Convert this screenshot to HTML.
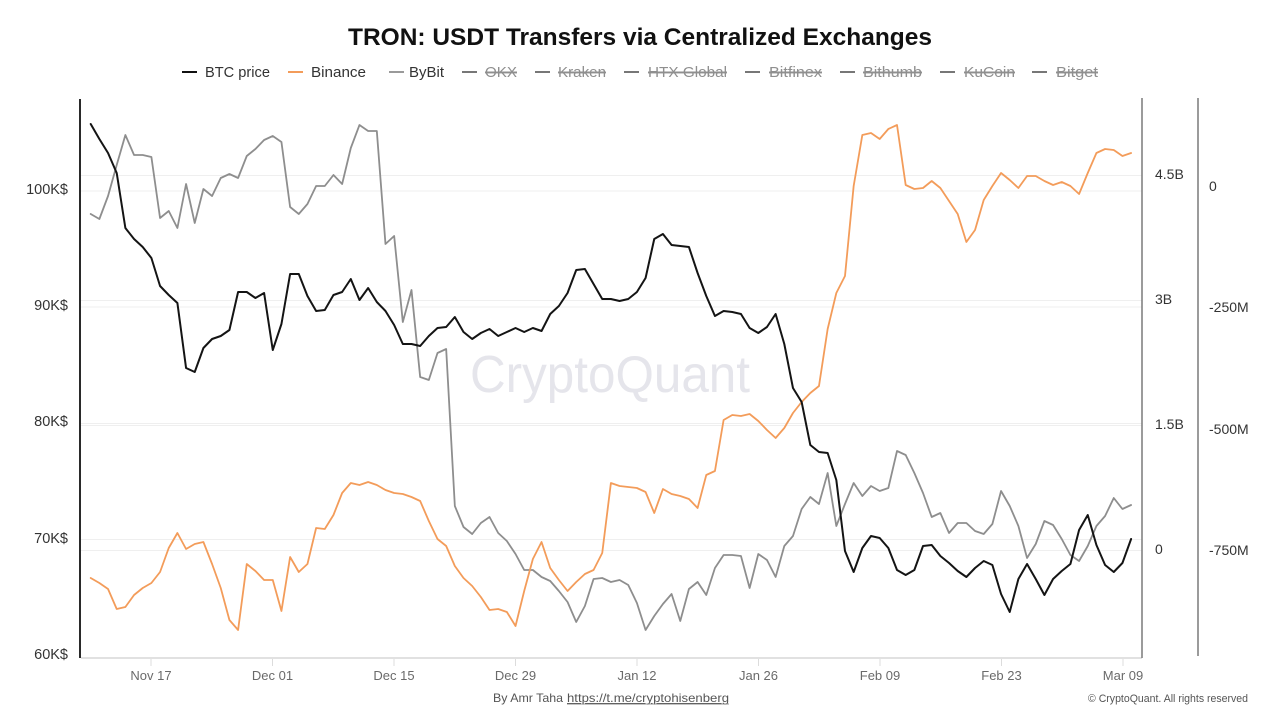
<!DOCTYPE html>
<html>
<head>
<meta charset="utf-8">
<style>
  html, body { margin: 0; padding: 0; background: #ffffff; }
  svg { display: block; }
  text { font-family: "Liberation Sans", "DejaVu Sans", sans-serif; }
</style>
</head>
<body>
<svg width="1280" height="720" viewBox="0 0 1280 720" xmlns="http://www.w3.org/2000/svg">
  <rect width="1280" height="720" fill="#ffffff"/>

  <!-- Title -->
  <text x="640" y="45" text-anchor="middle" font-size="24" font-weight="bold" fill="#111" textLength="584" lengthAdjust="spacingAndGlyphs">TRON: USDT Transfers via Centralized Exchanges</text>

  <!-- Legend -->
  <g font-size="15">
    <line x1="182" y1="72" x2="197" y2="72" stroke="#111" stroke-width="2"/>
    <text x="205" y="77" fill="#333" textLength="65" lengthAdjust="spacingAndGlyphs">BTC price</text>
    <line x1="288" y1="72" x2="303" y2="72" stroke="#f39c5a" stroke-width="2"/>
    <text x="311" y="77" fill="#333" textLength="55" lengthAdjust="spacingAndGlyphs">Binance</text>
    <line x1="389" y1="72" x2="404" y2="72" stroke="#9a9a9a" stroke-width="2"/>
    <text x="409" y="77" fill="#333" textLength="35" lengthAdjust="spacingAndGlyphs">ByBit</text>

    <g fill="#8f8f8f" text-decoration="line-through">
      <line x1="462" y1="72" x2="477" y2="72" stroke="#777" stroke-width="2"/>
      <text x="485" y="77" textLength="32" lengthAdjust="spacingAndGlyphs">OKX</text>
      <line x1="535" y1="72" x2="550" y2="72" stroke="#777" stroke-width="2"/>
      <text x="558" y="77" textLength="48" lengthAdjust="spacingAndGlyphs">Kraken</text>
      <line x1="624" y1="72" x2="639" y2="72" stroke="#777" stroke-width="2"/>
      <text x="648" y="77" textLength="79" lengthAdjust="spacingAndGlyphs">HTX Global</text>
      <line x1="745" y1="72" x2="760" y2="72" stroke="#777" stroke-width="2"/>
      <text x="769" y="77" textLength="53" lengthAdjust="spacingAndGlyphs">Bitfinex</text>
      <line x1="840" y1="72" x2="855" y2="72" stroke="#777" stroke-width="2"/>
      <text x="863" y="77" textLength="59" lengthAdjust="spacingAndGlyphs">Bithumb</text>
      <line x1="940" y1="72" x2="955" y2="72" stroke="#777" stroke-width="2"/>
      <text x="964" y="77" textLength="51" lengthAdjust="spacingAndGlyphs">KuCoin</text>
      <line x1="1032" y1="72" x2="1047" y2="72" stroke="#777" stroke-width="2"/>
      <text x="1056" y="77" textLength="42" lengthAdjust="spacingAndGlyphs">Bitget</text>
    </g>
    <!-- explicit strike lines for robustness -->
    <g stroke="#8f8f8f" stroke-width="1">
      <line x1="485" y1="72" x2="517" y2="72"/>
      <line x1="558" y1="72" x2="606" y2="72"/>
      <line x1="648" y1="72" x2="727" y2="72"/>
      <line x1="769" y1="72" x2="822" y2="72"/>
      <line x1="863" y1="72" x2="922" y2="72"/>
      <line x1="964" y1="72" x2="1015" y2="72"/>
      <line x1="1056" y1="72" x2="1098" y2="72"/>
    </g>
  </g>

  <!-- Gridlines -->
  <g stroke="#efefef" stroke-width="1">
    <line x1="81" y1="191" x2="1142" y2="191"/>
    <line x1="81" y1="307" x2="1142" y2="307"/>
    <line x1="81" y1="423.5" x2="1142" y2="423.5"/>
    <line x1="81" y1="539.5" x2="1142" y2="539.5"/>
    <line x1="81" y1="175.5" x2="1142" y2="175.5"/>
    <line x1="81" y1="300.5" x2="1142" y2="300.5"/>
    <line x1="81" y1="425.5" x2="1142" y2="425.5"/>
    <line x1="81" y1="550.5" x2="1142" y2="550.5"/>
  </g>

  <!-- Watermark -->
  <text x="610" y="392" text-anchor="middle" font-size="52" fill="#e5e5eb" textLength="280" lengthAdjust="spacingAndGlyphs">CryptoQuant</text>

  <!-- Series -->
  <g transform="translate(90.7,0) scale(8.67,1)" fill="none" stroke-linejoin="round" stroke-linecap="round">
    <!-- ByBit -->
    <polyline vector-effect="non-scaling-stroke" stroke="#8e8e8e" stroke-width="1.8" points="0,214 1,219 2,196 3,165 4,135 5,155 6,155 7,157 8,218 9,211 10,228 11,184 12,223 13,189 14,196 15,178 16,174 17,178 18,156 19,149 20,140 21,136 22,142 23,207 24,214 25,204 26,186 27,186 28,175 29,184 30,148 31,125 32,131 33,131 34,244 35,236 36,322 37,290 38,377 39,380 40,353 41,349 42,506 43,527 44,534 45,523 46,517 47,533 48,541 49,554 50,570 51,570 52,577 53,581 54,591 55,602 56,622 57,606 58,579 59,578 60,582 61,580 62,585 63,603 64,630 65,616 66,604 67,594 68,621 69,589 70,582 71,595 72,568 73,555 74,555 75,556 76,588 77,554 78,560 79,577 80,546 81,536 82,509 83,497 84,504 85,473 86,526 87,504 88,483 89,496 90,486 91,491 92,488 93,451 94,455 95,473 96,493 97,517 98,513 99,533 100,523 101,523 102,531 103,534 104,524 105,491 106,506 107,526 108,558 109,544 110,521 111,525 112,539 113,555 114,561 115,546 116,526 117,516 118,498 119,509 120,505"/>
    <!-- Binance -->
    <polyline vector-effect="non-scaling-stroke" stroke="#f39c5a" stroke-width="1.8" points="0,578 1,583 2,589 3,609 4,607 5,595 6,588 7,583 8,572 9,548 10,533 11,549 12,544 13,542 14,564 15,588 16,620 17,630 18,564 19,571 20,580 21,580 22,611 23,557 24,572 25,564 26,528 27,529 28,515 29,493 30,483 31,485 32,482 33,485 34,490 35,493 36,494 37,497 38,501 39,521 40,539 41,546 42,566 43,578 44,586 45,597 46,610 47,609 48,612 49,626 50,591 51,559 52,542 53,568 54,580 55,591 56,582 57,574 58,570 59,553 60,483 61,486 62,487 63,488 64,492 65,513 66,489 67,494 68,496 69,499 70,508 71,475 72,471 73,420 74,415 75,416 76,414 77,421 78,430 79,438 80,428 81,413 82,402 83,393 84,386 85,329 86,293 87,276 88,186 89,135 90,133 91,139 92,129 93,125 94,185 95,189 96,188 97,181 98,188 99,201 100,214 101,242 102,230 103,200 104,186 105,173 106,180 107,188 108,176 109,176 110,181 111,185 112,182 113,186 114,194 115,173 116,153 117,149 118,150 119,156 120,153"/>
    <!-- BTC price -->
    <polyline vector-effect="non-scaling-stroke" stroke="#141414" stroke-width="2" points="0,124 1,139 2,153 3,173 4,228 5,239 6,247 7,258 8,286 9,295 10,303 11,368 12,372 13,348 14,339 15,336 16,330 17,292 18,292 19,298 20,293 21,350 22,324 23,274 24,274 25,296 26,311 27,310 28,295 29,292 30,279 31,300 32,288 33,302 34,311 35,325 36,344 37,344 38,346 39,336 40,328 41,327 42,317 43,332 44,339 45,333 46,329 47,336 48,332 49,328 50,332 51,328 52,331 53,314 54,306 55,293 56,270 57,269 58,284 59,299 60,299 61,301 62,299 63,292 64,278 65,239 66,234 67,245 68,246 69,247 70,273 71,296 72,316 73,311 74,312 75,314 76,328 77,333 78,327 79,314 80,344 81,388 82,402 83,445 84,452 85,453 86,480 87,551 88,572 89,548 90,536 91,538 92,548 93,570 94,575 95,570 96,546 97,545 98,556 99,563 100,571 101,577 102,568 103,561 104,565 105,594 106,612 107,579 108,564 109,579 110,595 111,579 112,571 113,564 114,530 115,515 116,545 117,565 118,572 119,563 120,539"/>
  </g>

  <!-- Axes -->
  <line x1="81" y1="658" x2="1142" y2="658" stroke="#cfcfcf" stroke-width="1.2"/>
  <line x1="80" y1="99" x2="80" y2="658" stroke="#2a2a2a" stroke-width="2"/>
  <line x1="1142" y1="98" x2="1142" y2="658" stroke="#7a7a7a" stroke-width="1.5"/>
  <line x1="1198" y1="98" x2="1198" y2="656" stroke="#7a7a7a" stroke-width="1.5"/>

  <!-- X ticks -->
  <g stroke="#dcdcdc" stroke-width="1">
    <line x1="151" y1="659" x2="151" y2="666"/>
    <line x1="272.5" y1="659" x2="272.5" y2="666"/>
    <line x1="394" y1="659" x2="394" y2="666"/>
    <line x1="515.5" y1="659" x2="515.5" y2="666"/>
    <line x1="637" y1="659" x2="637" y2="666"/>
    <line x1="758.5" y1="659" x2="758.5" y2="666"/>
    <line x1="880" y1="659" x2="880" y2="666"/>
    <line x1="1001.5" y1="659" x2="1001.5" y2="666"/>
    <line x1="1123" y1="659" x2="1123" y2="666"/>
  </g>

  <!-- X labels -->
  <g font-size="13" fill="#6a6a6a" text-anchor="middle">
    <text x="151" y="680">Nov 17</text>
    <text x="272.5" y="680">Dec 01</text>
    <text x="394" y="680">Dec 15</text>
    <text x="515.5" y="680">Dec 29</text>
    <text x="637" y="680">Jan 12</text>
    <text x="758.5" y="680">Jan 26</text>
    <text x="880" y="680">Feb 09</text>
    <text x="1001.5" y="680">Feb 23</text>
    <text x="1123" y="680">Mar 09</text>
  </g>

  <!-- Left axis labels -->
  <g font-size="14.5" fill="#333" text-anchor="end">
    <text x="68" y="194">100K$</text>
    <text x="68" y="310">90K$</text>
    <text x="68" y="426">80K$</text>
    <text x="68" y="543">70K$</text>
    <text x="68" y="659">60K$</text>
  </g>

  <!-- Right axis 1 labels -->
  <g font-size="14" fill="#333">
    <text x="1155" y="179">4.5B</text>
    <text x="1155" y="304">3B</text>
    <text x="1155" y="429">1.5B</text>
    <text x="1155" y="554">0</text>
  </g>

  <!-- Right axis 2 labels -->
  <g font-size="14" fill="#333">
    <text x="1209" y="191">0</text>
    <text x="1209" y="312">-250M</text>
    <text x="1209" y="434">-500M</text>
    <text x="1209" y="555">-750M</text>
  </g>

  <!-- Footer -->
  <text x="493" y="702" font-size="12" fill="#555"><tspan textLength="70" lengthAdjust="spacingAndGlyphs">By Amr Taha</tspan><tspan x="567" text-decoration="underline" textLength="162" lengthAdjust="spacingAndGlyphs">https://t.me/cryptohisenberg</tspan></text>
  <line x1="567" y1="704" x2="729" y2="704" stroke="#777" stroke-width="0.8"/>
  <text x="1248" y="702" font-size="11" fill="#555" text-anchor="end" textLength="160" lengthAdjust="spacingAndGlyphs">© CryptoQuant. All rights reserved</text>
</svg>
</body>
</html>
